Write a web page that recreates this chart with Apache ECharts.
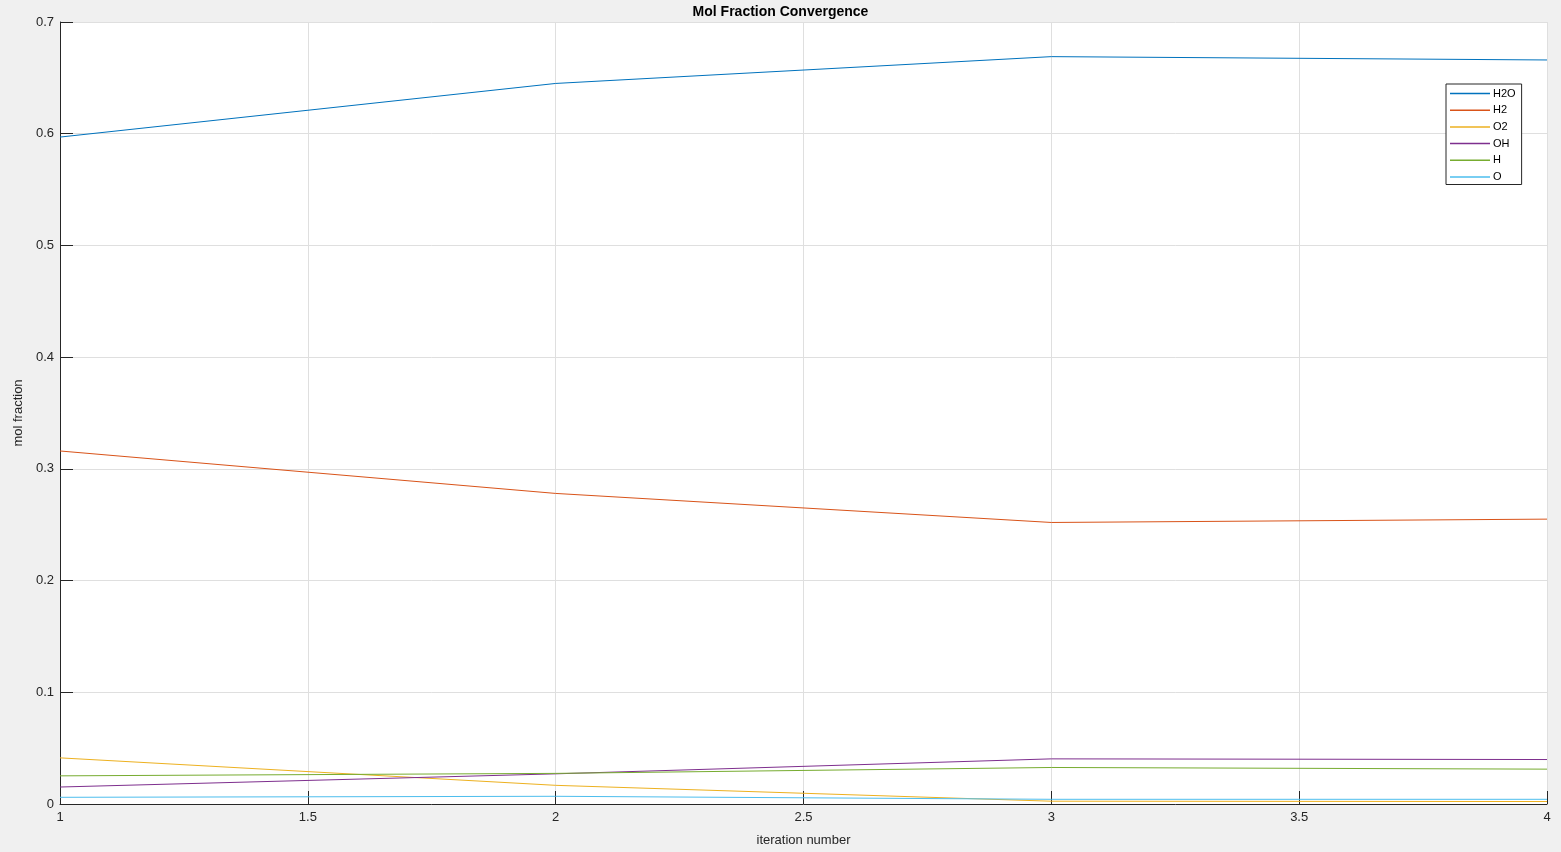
<!DOCTYPE html>
<html>
<head>
<meta charset="utf-8">
<script src="https://cdn.jsdelivr.net/npm/echarts@6/dist/echarts.min.js"></script>
<style>
html,body{margin:0;padding:0;background:#f0f0f0;}
#chart{width:1561px;height:852px;}
</style>
</head>
<body>
<div id="chart"></div>
<script>
const iterations = [1, 2, 3, 4];
const seriesNames = ['H2O', 'H2', 'O2', 'OH', 'H', 'O'];
const H2O = [0.597, 0.645, 0.669, 0.666];
const H2  = [0.316, 0.278, 0.252, 0.255];
const O2  = [0.0413, 0.0167, 0.0025, 0.0022];
const OH  = [0.0152, 0.0270, 0.0404, 0.0398];
const H   = [0.0252, 0.0274, 0.0327, 0.0312];
const O   = [0.0060, 0.0069, 0.0042, 0.0042];
const colors = ['#0072BD', '#D95319', '#EDB120', '#7E2F8E', '#77AC30', '#4DBEEE'];
const values = [H2O, H2, O2, OH, H, O];

const font = 'Helvetica, Arial, "Liberation Sans", sans-serif';
const chart = echarts.init(document.getElementById('chart'));
chart.setOption({
  backgroundColor: '#f0f0f0',
  animation: false,
  title: {
    text: 'Mol Fraction Convergence',
    left: 'center', top: 0,
    textStyle: {fontFamily: font, fontSize: 14, fontWeight: 'bold', color: '#000'}
  },
  legend: {
    orient: 'vertical',
    left: 1446, top: 84,
    width: 75,
    backgroundColor: '#fff',
    borderColor: '#262626', borderWidth: 1, borderRadius: 0,
    padding: [3, 6, 1, 4],
    icon: 'rect',
    itemWidth: 40, itemHeight: 1.5, itemGap: 3.7,
    textStyle: {fontFamily: font, fontSize: 11, lineHeight: 13, color: '#000', padding: [0, 0, 0, -2]},
    data: seriesNames
  },
  grid: {
    left: 60, top: 22, right: 14, bottom: 45,
    show: true, backgroundColor: '#fff', borderWidth: 0
  },
  xAxis: {
    type: 'value', min: 1, max: 4, interval: 0.5,
    name: 'iteration number', nameLocation: 'middle', nameGap: 30,
    nameTextStyle: {fontFamily: font, fontSize: 13, color: '#262626'},
    axisLine: {show: true, lineStyle: {color: '#262626', width: 1}},
    axisTick: {show: true, inside: true, length: 13, lineStyle: {color: '#262626'}},
    axisLabel: {fontFamily: font, fontSize: 13, color: '#262626', margin: 7},
    splitLine: {show: true, lineStyle: {color: '#dfdfdf', width: 1}}
  },
  yAxis: {
    type: 'value', min: 0, max: 0.7, interval: 0.1,
    name: 'mol fraction', nameLocation: 'middle', nameGap: 24, nameRotate: 90,
    nameTextStyle: {fontFamily: font, fontSize: 13, color: '#262626'},
    axisLine: {show: true, lineStyle: {color: '#262626', width: 1}},
    axisTick: {show: true, inside: true, length: 13, lineStyle: {color: '#262626'}},
    axisLabel: {fontFamily: font, fontSize: 13, color: '#262626', margin: 6,
      formatter: v => (Math.round(v * 10) / 10).toString()},
    splitLine: {show: true, lineStyle: {color: '#dfdfdf', width: 1}}
  },
  series: seriesNames.map((n, i) => ({
    name: n,
    type: 'line',
    symbol: 'none',
    color: colors[i],
    lineStyle: {color: colors[i], width: 1},
    data: iterations.map((x, j) => [x, values[i][j]])
  }))
});
</script>
</body>
</html>
